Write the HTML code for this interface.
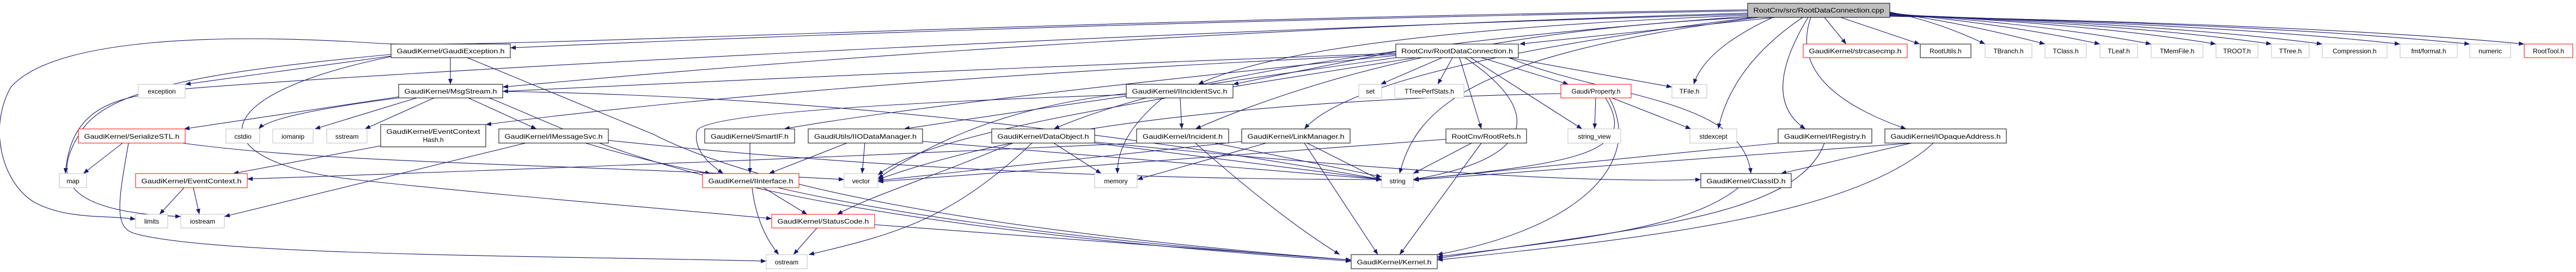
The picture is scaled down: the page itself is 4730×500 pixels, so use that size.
<!DOCTYPE html>
<html><head><meta charset="utf-8"><style>
html,body{margin:0;padding:0;background:#fff;}
svg{display:block;}
text{font-family:"Liberation Sans",sans-serif;font-size:12px;fill:#000;}
.e{fill:none;stroke:#191970;stroke-width:1.1;marker-end:url(#a);}
.b{fill:#fff;stroke:#000;stroke-width:1;}
.g{fill:#fff;stroke:#bfbfbf;stroke-width:1;}
.r{fill:#fff;stroke:#ff0000;stroke-width:1;}
.f{fill:#bfbfbf;stroke:#000;stroke-width:1;}
</style></head><body>
<svg width="4730" height="500" viewBox="0 0 4730 500" xmlns="http://www.w3.org/2000/svg">
<defs><marker id="a" markerUnits="userSpaceOnUse" markerWidth="11" markerHeight="8" refX="10" refY="4" orient="auto"><path d="M0,0 L10,4 L0,8 z" fill="#191970"/></marker></defs>
<g>
<!-- cpp edges -->
<path class="e" d="M3470,22 Q3560,40 3645,81"/>
<path class="e" d="M3470,23 Q3620,45 3755,81"/>
<path class="e" d="M3470,24 Q3690,45 3856,81"/>
<path class="e" d="M3470,25 Q3760,45 3950,81"/>
<path class="e" d="M3470,26 Q3850,45 4069,81"/>
<path class="e" d="M3470,27 Q3920,45 4171,81"/>
<path class="e" d="M3470,27 Q3990,45 4264,81"/>
<path class="e" d="M3470,28 Q4080,45 4407,81"/>
<path class="e" d="M3470,29 Q4180,45 4535,81"/>
<path class="e" d="M3470,30 Q4260,45 4635,81"/>
<path class="e" d="M3380,32 L3525,81"/>
<path class="e" d="M3350,32 L3390,81"/>
<path class="e" d="M3260,32 L2790,81"/>
<path class="e" d="M3255,32 Q3130,90 3110,155"/>
<path class="e" d="M3310,32 Q3180,120 3155,237"/>
<path class="e" d="M3320,32 Q3230,180 3315,237"/>
<path class="e" d="M3325,32 Q3280,160 3500,237"/>
<path class="e" d="M3209,20 Q2000,40 937,88"/>
<path class="e" d="M3209,24 Q2000,60 923,160"/>
<path class="e" d="M3209,28 Q2400,60 2200,155"/>
<path class="e" d="M3215,32 Q2600,60 2195,237"/>
<path class="e" d="M3209,30 Q2250,100 1935,237"/>
<path class="e" d="M3220,32 Q2500,120 2395,237"/>
<path class="e" d="M3230,32 C2700,100 2600,200 2570,319"/>
<path class="e" d="M3209,18 C1800,40 900,90 700,80 C400,60 100,70 20,160 C-20,230 0,330 60,370 C120,405 200,395 249,403"/>
<path class="e" d="M3209,26 C2000,60 600,140 320,165 C220,180 130,190 120,319"/>
<!-- GaudiException -->
<path class="e" d="M718,103 L340,155"/>
<path class="e" d="M827,106 L827,155"/>
<path class="e" d="M858,106 L1200,247 Q1500,400 2481,478"/>
<path class="e" d="M718,104 C350,180 380,300 650,330 S1300,390 1417,402"/>
<path class="e" d="M718,100 C400,130 200,160 150,240 C90,330 120,390 332,398"/>
<!-- MsgStream -->
<path class="e" d="M732,178 L338,237"/>
<path class="e" d="M732,180 Q500,210 475,237"/>
<path class="e" d="M765,180 L578,237"/>
<path class="e" d="M797,180 L670,237"/>
<path class="e" d="M860,180 L985,237"/>
<path class="e" d="M923,168 Q1700,180 2537,330"/>
<path class="e" d="M898,180 C1100,260 1300,400 2481,480"/>
<!-- SerializeSTL -->
<path class="e" d="M225,263 L153,319"/>
<path class="e" d="M236,263 C215,380 210,420 250,430 C400,470 1000,470 1407,480"/>
<path class="e" d="M335,263 C600,300 1000,300 1550,330"/>
<!-- ECH, IMS, EC -->
<path class="e" d="M699,268 L428,319"/>
<path class="e" d="M965,263 L412,398"/>
<path class="e" d="M1075,263 Q1200,300 1305,319"/>
<path class="e" d="M1117,258 Q1800,330 2537,330"/>
<path class="e" d="M338,345 L293,394"/>
<path class="e" d="M355,345 L366,394"/>
<path class="e" d="M2087,263 Q1300,300 454,329"/>
<path class="e" d="M2563,100 Q1500,150 892,229"/>
<!-- IInterface, StatusCode -->
<path class="e" d="M1381,345 Q1390,420 1430,468"/>
<path class="e" d="M1402,345 L1482,394"/>
<path class="e" d="M1428,345 Q1800,430 2481,478"/>
<path class="e" d="M1500,419 L1457,468"/>
<path class="e" d="M1606,413 L2481,478"/>
<!-- SmartIF, IIOD -->
<path class="e" d="M1377,263 L1377,319"/>
<path class="e" d="M1555,263 L1412,319"/>
<path class="e" d="M1588,263 L1583,319"/>
<path class="e" d="M1694,260 L2537,330"/>
<!-- DataObject -->
<path class="e" d="M1860,263 C1700,330 1600,360 1537,394"/>
<path class="e" d="M1895,263 C1750,400 1650,430 1485,468"/>
<path class="e" d="M1935,263 L2022,319"/>
<path class="e" d="M2010,263 L2537,330"/>
<path class="e" d="M2010,261 Q2800,340 3123,330"/>
<!-- Incident, IIS, LM -->
<path class="e" d="M2230,263 L2537,325"/>
<path class="e" d="M2195,263 Q2350,400 2460,468"/>
<path class="e" d="M2167,180 L2170,237"/>
<path class="e" d="M2135,180 Q2050,250 2052,319"/>
<path class="e" d="M2068,172 Q1800,200 1612,328"/>
<path class="e" d="M2068,174 Q1300,200 1280,240 Q1270,280 1328,319"/>
<path class="e" d="M2325,263 L2088,330"/>
<path class="e" d="M2280,260 L1612,332"/>
<path class="e" d="M2400,263 L2537,332"/>
<path class="e" d="M2395,263 L2530,468"/>
<!-- RootDataConnection.h -->
<path class="e" d="M2648,106 L2535,155"/>
<path class="e" d="M2667,106 L2640,155"/>
<path class="e" d="M2720,106 L2880,155"/>
<path class="e" d="M2770,106 L3070,160"/>
<path class="e" d="M2680,106 L2720,237"/>
<path class="e" d="M2700,106 L2905,237"/>
<path class="e" d="M2690,106 C2830,200 2830,290 2595,330"/>
<path class="e" d="M2770,106 C2950,180 3200,180 3215,319"/>
<path class="e" d="M2563,95 L2264,155"/>
<path class="e" d="M2563,102 Q1700,190 1440,237"/>
<path class="e" d="M2563,106 Q1900,200 1660,237"/>
<path class="e" d="M2563,98 Q1700,130 923,168"/>
<path class="e" d="M2600,106 C2000,200 1700,250 1612,322"/>
<!-- Property -->
<path class="e" d="M2930,180 L2928,237"/>
<path class="e" d="M2960,180 L3105,237"/>
<path class="e" d="M2948,180 C3010,280 2900,300 2595,330"/>
<path class="e" d="M2955,180 C3020,300 2900,420 2639,468"/>
<path class="e" d="M2866,172 Q2000,190 1612,330"/>
<!-- RootRefs, IRegistry, IOA, ClassID -->
<path class="e" d="M2702,263 L2595,319"/>
<path class="e" d="M2720,263 L2570,468"/>
<path class="e" d="M2655,256 L1612,334"/>
<path class="e" d="M3265,263 L2595,330"/>
<path class="e" d="M3350,263 C3300,400 3000,420 2639,475"/>
<path class="e" d="M3510,263 L2595,331"/>
<path class="e" d="M3510,263 L3270,319"/>
<path class="e" d="M3550,263 C3400,400 3000,440 2639,478"/>
<path class="e" d="M3192,345 C3100,420 2900,440 2639,472"/>
</g>
<g>
<rect class="f" x="3209" y="6" width="261" height="26"/><text x="3339.5" y="23" text-anchor="middle" textLength="240" lengthAdjust="spacingAndGlyphs">RootCnv/src/RootDataConnection.cpp</text>
<rect class="b" x="2563" y="81" width="225" height="25"/><text x="2675.5" y="98" text-anchor="middle" textLength="205" lengthAdjust="spacingAndGlyphs">RootCnv/RootDataConnection.h</text>
<rect class="r" x="3311" y="81" width="191" height="25"/><text x="3406.5" y="98" text-anchor="middle" textLength="170" lengthAdjust="spacingAndGlyphs">GaudiKernel/strcasecmp.h</text>
<rect class="b" x="3526" y="81" width="93" height="25"/><text x="3572.5" y="98" text-anchor="middle">RootUtils.h</text>
<rect class="g" x="3645" y="81" width="86" height="25"/><text x="3688" y="98" text-anchor="middle">TBranch.h</text>
<rect class="g" x="3755" y="81" width="76" height="25"/><text x="3793" y="98" text-anchor="middle">TClass.h</text>
<rect class="g" x="3856" y="81" width="69" height="25"/><text x="3890.5" y="98" text-anchor="middle">TLeaf.h</text>
<rect class="g" x="3950" y="81" width="95" height="25"/><text x="3997.5" y="98" text-anchor="middle">TMemFile.h</text>
<rect class="g" x="4069" y="81" width="77" height="25"/><text x="4107.5" y="98" text-anchor="middle">TROOT.h</text>
<rect class="g" x="4171" y="81" width="69" height="25"/><text x="4205.5" y="98" text-anchor="middle">TTree.h</text>
<rect class="g" x="4264" y="81" width="119" height="25"/><text x="4323.5" y="98" text-anchor="middle">Compression.h</text>
<rect class="g" x="4407" y="81" width="105" height="25"/><text x="4459.5" y="98" text-anchor="middle">fmt/format.h</text>
<rect class="g" x="4535" y="81" width="75" height="25"/><text x="4572.5" y="98" text-anchor="middle">numeric</text>
<rect class="r" x="4635" y="81" width="89" height="25"/><text x="4679.5" y="98" text-anchor="middle">RootTool.h</text>
<rect class="b" x="718" y="81" width="219" height="25"/><text x="827.5" y="98" text-anchor="middle" textLength="198" lengthAdjust="spacingAndGlyphs">GaudiKernel/GaudiException.h</text>
<rect class="g" x="254" y="155" width="86" height="25"/><text x="297" y="172" text-anchor="middle">exception</text>
<rect class="b" x="732" y="155" width="191" height="25"/><text x="827.5" y="172" text-anchor="middle" textLength="170" lengthAdjust="spacingAndGlyphs">GaudiKernel/MsgStream.h</text>
<rect class="g" x="2495" y="155" width="42" height="25"/><text x="2516" y="172" text-anchor="middle">set</text>
<rect class="g" x="2561" y="155" width="127" height="25"/><text x="2624.5" y="172" text-anchor="middle">TTreePerfStats.h</text>
<rect class="r" x="2866" y="155" width="129" height="25"/><text x="2930.5" y="172" text-anchor="middle">Gaudi/Property.h</text>
<rect class="g" x="3070" y="155" width="64" height="25"/><text x="3102" y="172" text-anchor="middle">TFile.h</text>
<rect class="b" x="2068" y="155" width="196" height="25"/><text x="2166" y="172" text-anchor="middle" textLength="175" lengthAdjust="spacingAndGlyphs">GaudiKernel/IIncidentSvc.h</text>
<rect class="r" x="144" y="237" width="196" height="26"/><text x="242" y="255" text-anchor="middle" textLength="175" lengthAdjust="spacingAndGlyphs">GaudiKernel/SerializeSTL.h</text>
<rect class="g" x="415" y="237" width="62" height="26"/><text x="446" y="255" text-anchor="middle">cstdio</text>
<rect class="g" x="501" y="237" width="74" height="26"/><text x="538" y="255" text-anchor="middle">iomanip</text>
<rect class="g" x="600" y="237" width="74" height="26"/><text x="637" y="255" text-anchor="middle">sstream</text>
<rect class="b" x="699" y="229" width="193" height="41"/><text x="795.5" y="246" text-anchor="middle" textLength="172" lengthAdjust="spacingAndGlyphs">GaudiKernel/EventContext</text><text x="795.5" y="261" text-anchor="middle">Hash.h</text>
<rect class="b" x="916" y="237" width="201" height="26"/><text x="1016.5" y="255" text-anchor="middle" textLength="180" lengthAdjust="spacingAndGlyphs">GaudiKernel/IMessageSvc.h</text>
<rect class="b" x="1294" y="237" width="165" height="26"/><text x="1376.5" y="255" text-anchor="middle" textLength="143" lengthAdjust="spacingAndGlyphs">GaudiKernel/SmartIF.h</text>
<rect class="b" x="1484" y="237" width="210" height="26"/><text x="1589" y="255" text-anchor="middle" textLength="188" lengthAdjust="spacingAndGlyphs">GaudiUtils/IIODataManager.h</text>
<rect class="b" x="1821" y="237" width="189" height="26"/><text x="1915.5" y="255" text-anchor="middle" textLength="168" lengthAdjust="spacingAndGlyphs">GaudiKernel/DataObject.h</text>
<rect class="b" x="2087" y="237" width="169" height="26"/><text x="2171.5" y="255" text-anchor="middle" textLength="147" lengthAdjust="spacingAndGlyphs">GaudiKernel/Incident.h</text>
<rect class="b" x="2280" y="237" width="199" height="26"/><text x="2379.5" y="255" text-anchor="middle" textLength="178" lengthAdjust="spacingAndGlyphs">GaudiKernel/LinkManager.h</text>
<rect class="b" x="2655" y="237" width="148" height="26"/><text x="2729" y="255" text-anchor="middle" textLength="127" lengthAdjust="spacingAndGlyphs">RootCnv/RootRefs.h</text>
<rect class="g" x="2879" y="237" width="97" height="26"/><text x="2927.5" y="255" text-anchor="middle">string_view</text>
<rect class="g" x="3103" y="237" width="86" height="26"/><text x="3146" y="255" text-anchor="middle">stdexcept</text>
<rect class="b" x="3265" y="237" width="172" height="26"/><text x="3351" y="255" text-anchor="middle" textLength="150" lengthAdjust="spacingAndGlyphs">GaudiKernel/IRegistry.h</text>
<rect class="b" x="3461" y="237" width="223" height="26"/><text x="3572.5" y="255" text-anchor="middle" textLength="202" lengthAdjust="spacingAndGlyphs">GaudiKernel/IOpaqueAddress.h</text>
<rect class="g" x="109" y="319" width="50" height="26"/><text x="134" y="337" text-anchor="middle">map</text>
<rect class="r" x="249" y="319" width="205" height="26"/><text x="351.5" y="337" text-anchor="middle" textLength="184" lengthAdjust="spacingAndGlyphs">GaudiKernel/EventContext.h</text>
<rect class="r" x="1290" y="319" width="177" height="26"/><text x="1378.5" y="337" text-anchor="middle" textLength="156" lengthAdjust="spacingAndGlyphs">GaudiKernel/IInterface.h</text>
<rect class="g" x="1550" y="319" width="62" height="26"/><text x="1581" y="337" text-anchor="middle">vector</text>
<rect class="g" x="2010" y="319" width="78" height="26"/><text x="2049" y="337" text-anchor="middle">memory</text>
<rect class="g" x="2537" y="319" width="58" height="26"/><text x="2566" y="337" text-anchor="middle">string</text>
<rect class="b" x="3123" y="319" width="166" height="26"/><text x="3206" y="337" text-anchor="middle" textLength="145" lengthAdjust="spacingAndGlyphs">GaudiKernel/ClassID.h</text>
<rect class="g" x="249" y="394" width="59" height="25"/><text x="278.5" y="411" text-anchor="middle">limits</text>
<rect class="g" x="332" y="394" width="80" height="25"/><text x="372" y="411" text-anchor="middle">iostream</text>
<rect class="r" x="1417" y="394" width="189" height="25"/><text x="1511.5" y="411" text-anchor="middle" textLength="168" lengthAdjust="spacingAndGlyphs">GaudiKernel/StatusCode.h</text>
<rect class="g" x="1407" y="468" width="75" height="26"/><text x="1444.5" y="486" text-anchor="middle">ostream</text>
<rect class="b" x="2481" y="468" width="158" height="26"/><text x="2560" y="486" text-anchor="middle" textLength="137" lengthAdjust="spacingAndGlyphs">GaudiKernel/Kernel.h</text>
</g>
</svg>
</body></html>
